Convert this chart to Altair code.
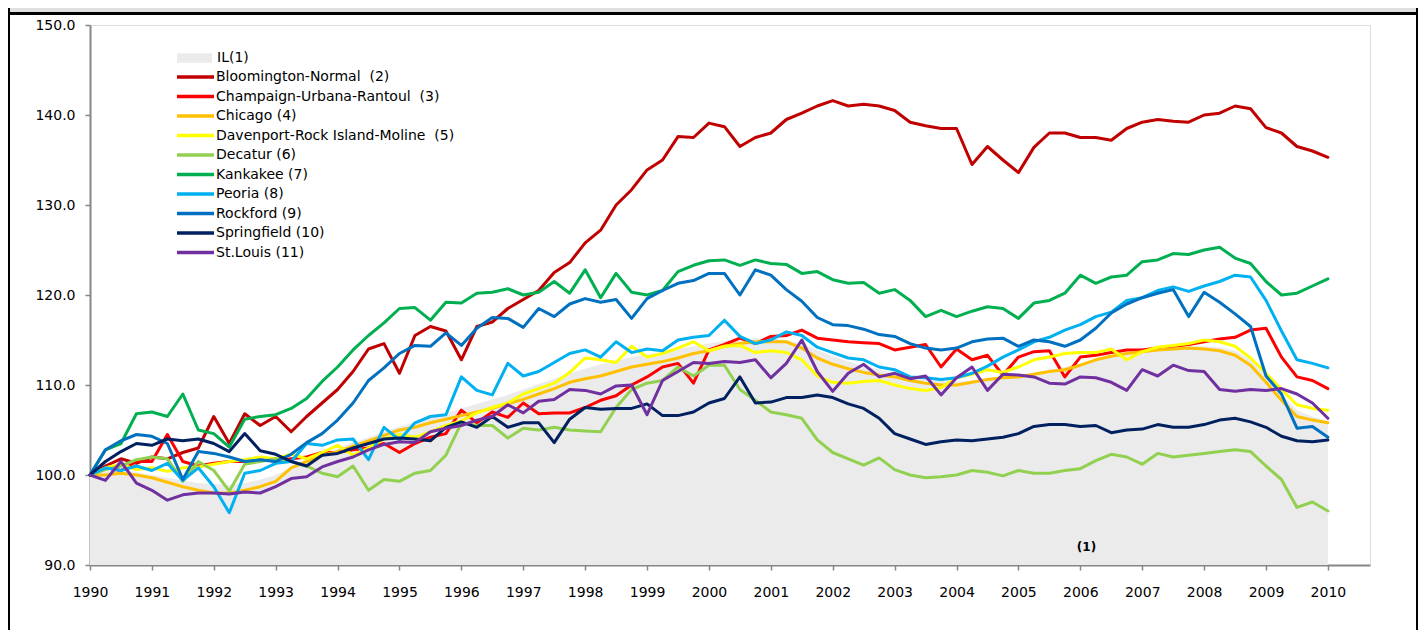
import altair as alt
import pandas as pd

# quarterly grid 1990.00 ... 2010.00
years = [1990 + q / 4 for q in range(81)]

il = [100.0, 100.4, 100.6, 100.3,
      100.0, 99.7, 99.4, 99.1,
      99.0, 98.9, 99.1, 99.5,
      100.0, 100.8, 101.6, 102.4,
      103.0, 103.6, 104.2, 104.8,
      105.4, 105.9, 106.4, 106.9,
      107.4, 107.9, 108.4, 108.9,
      109.5, 110.1, 110.7, 111.3,
      111.8, 112.3, 112.7, 113.1,
      113.4, 113.7, 114.0, 114.3,
      114.6, 114.9, 115.1, 115.2,
      115.2, 115.0, 114.6, 113.9,
      113.2, 112.6, 112.1, 111.7,
      111.3, 111.0, 110.7, 110.5,
      110.4, 110.5, 110.7, 110.9,
      111.1, 111.4, 111.7, 112.0,
      112.4, 112.8, 113.2, 113.5,
      113.8, 114.0, 114.2, 114.3,
      114.3, 114.2, 113.8, 112.8,
      111.0, 109.0, 107.2, 106.5,
      106.0]

bloomington = [100.0, 101.0, 101.8, 101.3,
               102.0, 101.8, 102.5, 103.0,
               106.5, 103.5, 106.8, 105.5,
               106.5, 104.8, 106.5, 108.0,
               109.5, 111.5, 114.0, 114.6,
               111.3, 115.5, 116.5, 116.0,
               112.8, 116.5, 117.0, 118.5,
               119.5, 120.5, 122.5, 123.6,
               125.8, 127.2, 130.0, 131.7,
               133.9, 135.0, 137.6, 137.5,
               139.1, 138.7, 136.5, 137.5,
               138.0, 139.5, 140.2, 141.0,
               141.6, 141.0, 141.2, 141.0,
               140.5, 139.2, 138.8, 138.5,
               138.5, 134.5, 136.5, 135.0,
               133.6, 136.4, 138.0, 138.0,
               137.5, 137.5, 137.2, 138.5,
               139.2, 139.5, 139.3, 139.2,
               140.0, 140.2, 141.0, 140.7,
               138.6, 138.0, 136.5, 136.0,
               135.3]

champaign = [100.0, 100.8, 100.5, 101.5,
             101.5, 104.5, 101.5, 101.0,
             101.3, 101.5, 101.5, 101.8,
             101.5, 101.8, 102.0, 102.5,
             102.5, 102.8, 103.0, 103.5,
             102.5, 103.5, 104.2, 104.6,
             107.2, 105.8, 107.0, 106.4,
             108.0, 106.8, 106.9, 106.9,
             107.5, 108.3, 108.8, 110.0,
             110.9, 112.0, 112.4, 110.2,
             113.9, 114.5, 115.2, 114.6,
             115.4, 115.5, 116.1, 115.2,
             115.0, 114.8, 114.7, 114.6,
             113.9, 114.2, 114.5, 112.0,
             114.0, 112.8, 113.3, 111.1,
             113.1, 113.7, 113.8, 110.9,
             113.1, 113.3, 113.6, 113.9,
             113.9, 114.1, 114.3, 114.5,
             114.8, 115.1, 115.3, 116.1,
             116.3, 113.1, 110.9, 110.5,
             109.6]

chicago = [100.0, 100.0, 100.2, 100.0,
           99.7, 99.2, 98.7, 98.3,
           98.0, 98.0, 98.3, 98.7,
           99.3, 100.8, 101.5, 102.2,
           102.6, 103.2, 103.8, 104.4,
           105.0, 105.3, 105.8, 106.2,
           106.6, 107.0, 107.4, 107.9,
           108.4, 109.0, 109.6, 110.3,
           110.7, 111.0, 111.5, 112.0,
           112.3, 112.6, 113.0, 113.5,
           113.8, 114.3, 114.6, 114.8,
           114.8, 114.8, 114.1, 113.0,
           112.3, 111.8, 111.4, 111.1,
           110.9, 110.5, 110.2, 110.0,
           110.0, 110.3, 110.6, 110.8,
           110.9, 111.2, 111.5, 111.7,
           112.2, 112.8, 113.2, 113.5,
           113.7, 113.9, 114.0, 114.1,
           114.0, 113.8, 113.3, 112.2,
           110.3, 108.3, 106.5, 106.1,
           105.8]

davenport = [100.0, 100.8, 101.2, 100.6,
             100.8, 100.4, 100.8, 100.9,
             101.2, 101.5, 101.7, 102.0,
             101.8, 102.3, 101.8, 102.5,
             103.3, 102.2, 103.0, 104.0,
             104.5, 104.2, 104.8, 105.5,
             106.0, 106.9, 107.5, 108.0,
             109.0, 109.6, 110.2, 111.4,
             113.0, 112.8, 112.5, 114.3,
             113.1, 113.5, 114.1, 114.8,
             113.8, 114.3, 114.4, 113.6,
             113.8, 113.6, 112.8, 111.0,
             110.3, 110.2, 110.4, 110.5,
             110.0, 109.6, 109.4, 109.7,
             110.8, 111.2, 111.7, 111.4,
             112.0, 112.8, 113.1, 113.5,
             113.6, 113.6, 114.0, 112.8,
             113.7, 114.2, 114.4, 114.6,
             115.0, 114.8, 114.3, 113.0,
             111.3, 109.5, 107.8, 107.4,
             107.2]

decatur = [100.0, 100.6, 101.0, 101.7,
           102.0, 101.8, 99.3, 101.5,
           100.5, 98.2, 101.2, 101.5,
           101.8, 101.5, 101.0, 100.2,
           99.8, 101.0, 98.3, 99.5,
           99.3, 100.2, 100.5, 102.2,
           105.8, 105.5, 105.5, 104.1,
           105.2, 105.0, 105.3, 105.0,
           104.9, 104.8, 107.5, 109.5,
           110.2, 110.5, 112.0, 111.0,
           112.2, 112.2, 109.5, 108.3,
           107.0, 106.7, 106.3, 103.9,
           102.5, 101.8, 101.1, 101.9,
           100.6, 100.0, 99.7, 99.8,
           100.0, 100.5, 100.3, 99.9,
           100.5, 100.2, 100.2, 100.5,
           100.7, 101.6, 102.3, 102.0,
           101.2, 102.4, 102.0, 102.2,
           102.4, 102.6, 102.8, 102.6,
           101.0, 99.5, 96.4, 97.0,
           96.0]

kankakee = [100.0, 102.8, 103.5, 106.8,
            107.0, 106.5, 109.0, 105.0,
            104.6, 103.1, 106.2, 106.5,
            106.7, 107.4, 108.5, 110.4,
            112.0, 113.9, 115.5, 116.9,
            118.5, 118.6, 117.2, 119.2,
            119.1, 120.2, 120.3, 120.7,
            120.0, 120.3, 121.5, 120.2,
            122.8, 119.7, 122.4, 120.3,
            120.0, 120.5, 122.6, 123.3,
            123.8, 123.9, 123.3, 123.9,
            123.5, 123.4, 122.4, 122.6,
            121.7, 121.3, 121.4, 120.2,
            120.6, 119.4, 117.6, 118.3,
            117.6, 118.2, 118.7, 118.5,
            117.4, 119.1, 119.4, 120.2,
            122.2, 121.3, 122.0, 122.2,
            123.7, 123.9, 124.6, 124.5,
            125.0, 125.3, 124.1, 123.5,
            121.5, 120.0, 120.2, 121.0,
            121.8]

peoria = [100.0, 100.8, 100.5, 101.0,
          100.5, 101.3, 99.4, 100.8,
          98.7, 95.8, 100.2, 100.5,
          101.3, 101.5, 103.5, 103.3,
          103.9, 104.0, 101.7, 105.3,
          103.9, 105.8, 106.5, 106.7,
          110.9, 109.4, 108.9, 112.4,
          111.0, 111.5, 112.5, 113.5,
          113.9, 113.1, 114.8, 113.6,
          114.0, 113.8, 115.0, 115.3,
          115.5, 117.2, 115.4, 114.6,
          115.0, 115.9, 115.5, 114.2,
          113.6, 113.0, 112.8, 112.0,
          111.7, 110.9, 110.8, 110.6,
          110.8, 111.3, 112.1, 113.1,
          113.9, 114.8, 115.3, 116.1,
          116.7, 117.6, 118.1, 119.4,
          119.7, 120.5, 120.9, 120.4,
          121.0, 121.5, 122.2, 122.0,
          119.4, 116.0, 112.8, 112.4,
          111.9]

rockford = [100.0, 102.8, 103.8, 104.5,
            104.3, 103.5, 99.5, 102.6,
            102.4, 102.0, 101.5, 101.7,
            101.5, 102.3, 103.6, 104.6,
            106.1, 108.0, 110.5, 111.9,
            113.5, 114.4, 114.3, 115.8,
            114.4, 116.3, 117.5, 117.4,
            116.4, 118.5, 117.6, 119.0,
            119.6, 119.2, 119.5, 117.4,
            119.6, 120.5, 121.3, 121.6,
            122.4, 122.4, 120.0, 122.8,
            122.2, 120.6, 119.3, 117.5,
            116.7, 116.6, 116.2, 115.6,
            115.4, 114.6, 114.1, 113.9,
            114.1, 114.8, 115.1, 115.2,
            114.3, 115.0, 114.8, 114.3,
            115.0, 116.3, 118.0, 119.0,
            119.7, 120.2, 120.6, 117.6,
            120.3, 119.2, 117.9, 116.5,
            111.0, 109.0, 105.2, 105.4,
            104.2]

springfield = [100.0, 101.5, 102.6, 103.5,
               103.3, 104.0, 103.8, 104.0,
               103.5, 102.6, 104.6, 102.7,
               102.3, 101.5, 101.0, 102.2,
               102.4, 103.0, 103.5, 104.0,
               104.1, 104.0, 103.8, 105.3,
               105.9, 105.3, 106.5, 105.3,
               105.8, 105.8, 103.6, 106.2,
               107.5, 107.3, 107.4, 107.4,
               107.9, 106.6, 106.6, 107.0,
               108.0, 108.5, 110.9, 108.0,
               108.1, 108.6, 108.6, 108.9,
               108.6, 107.9, 107.4, 106.3,
               104.6, 104.0, 103.4, 103.7,
               103.9, 103.8, 104.0, 104.2,
               104.6, 105.4, 105.6, 105.6,
               105.4, 105.5, 104.7, 105.0,
               105.1, 105.6, 105.3, 105.3,
               105.6, 106.1, 106.3, 105.9,
               105.3, 104.3, 103.8, 103.7,
               103.9]

stlouis = [100.0, 99.4, 101.5, 99.1,
           98.3, 97.2, 97.8, 98.0,
           98.0, 97.9, 98.1, 98.0,
           98.7, 99.6, 99.8, 100.9,
           101.5, 102.0, 102.8, 103.4,
           103.7, 103.6, 104.8, 105.2,
           105.5, 106.1, 106.5, 107.8,
           106.9, 108.2, 108.4, 109.5,
           109.4, 109.0, 109.9, 110.0,
           106.7, 110.5, 111.5, 112.5,
           112.4, 112.6, 112.5, 112.8,
           110.8, 112.4, 115.0, 111.5,
           109.3, 111.3, 112.3, 110.9,
           111.3, 110.7, 111.0, 108.9,
           110.8, 112.0, 109.4, 111.2,
           111.1, 110.9, 110.2, 110.1,
           110.9, 110.8, 110.3, 109.4,
           111.7, 111.0, 112.2, 111.6,
           111.5, 109.5, 109.3, 109.5,
           109.4, 109.6, 109.0, 108.0,
           106.3]

series_names = ["Bloomington-Normal\u00a0 (2)", "Champaign-Urbana-Rantoul\u00a0 (3)",
                "Chicago (4)", "Davenport-Rock Island-Moline\u00a0 (5)", "Decatur (6)",
                "Kankakee (7)", "Peoria (8)", "Rockford (9)", "Springfield (10)",
                "St.Louis (11)"]
series_colors = ["#c00000", "#ff0000", "#ffc000", "#ffff00", "#92d050",
                 "#00b050", "#00b0f0", "#0070c0", "#002060", "#7030a0"]
series_values = [bloomington, champaign, chicago, davenport, decatur,
                 kankakee, peoria, rockford, springfield, stlouis]

year_ticks = list(range(1990, 2011))
value_ticks = [90, 100, 110, 120, 130, 140, 150]

rows = []
for idx, (name, vals) in enumerate(zip(series_names, series_values)):
    for yr, v in zip(years, vals):
        rows.append({"year": yr, "value": v, "series": name, "k": idx})
lines_df = pd.DataFrame(rows)
il_df = pd.DataFrame({"year": years, "value": il, "region": "IL(1)"})
note_df = pd.DataFrame({"year": [2006.1], "value": [92.0], "label": ["(1)"]})

FONT = "DejaVu Sans"
x_scale = alt.Scale(domain=[1990, 2010.68], nice=False, zero=False)
y_scale = alt.Scale(domain=[90, 150], nice=False, zero=False)

x_axis = alt.Axis(values=year_ticks, format="d", title=None, grid=False,
                  domainColor="#868686", domainWidth=2, tickColor="#868686",
                  tickWidth=1.5, tickSize=5, labelPadding=15, labelFont=FONT,
                  labelFontSize=14, labelColor="#000000", labelFlush=False)
y_axis = alt.Axis(values=value_ticks, format=".1f", title=None, grid=False,
                  domainColor="#868686", domainWidth=2, tickColor="#868686",
                  tickWidth=1.5, tickSize=5, labelPadding=10, labelFont=FONT,
                  labelFontSize=14, labelColor="#000000")

area = alt.Chart(il_df).mark_area(opacity=1).encode(
    x=alt.X("year:Q", scale=x_scale, axis=x_axis),
    y=alt.Y("value:Q", scale=y_scale, axis=y_axis),
    y2=alt.datum(90),
    fill=alt.Fill("region:N", scale=alt.Scale(domain=["IL(1)"], range=["#ebebeb"]),
                  legend=alt.Legend(title=None, orient="none", legendX=87, legendY=26,
                                    symbolType="M-1,-0.27H1V0.27H-1Z", symbolSize=1225,
                                    symbolStrokeWidth=0, symbolOpacity=1,
                                    labelFont=FONT, labelFontSize=14, labelColor="#000000",
                                    labelOffset=5, clipHeight=14, padding=0, symbolOffset=0)),
)

lines = alt.Chart(lines_df).mark_line(strokeWidth=3, strokeJoin="round", strokeCap="round").encode(
    x=alt.X("year:Q", scale=x_scale),
    y=alt.Y("value:Q", scale=y_scale),
    color=alt.Color("series:N", sort=series_names,
                    scale=alt.Scale(domain=series_names, range=series_colors),
                    legend=alt.Legend(title=None, orient="none", legendX=85, legendY=45,
                                      symbolType="stroke", symbolSize=1369,
                                      symbolStrokeWidth=3.5, labelFont=FONT,
                                      labelFontSize=14, labelColor="#000000",
                                      labelOffset=0, clipHeight=14, rowPadding=5.5,
                                      padding=0, symbolOffset=0, labelLimit=600)),
)

note = alt.Chart(note_df).mark_text(font=FONT, fontSize=12, fontWeight="bold",
                                    color="#000000").encode(
    x=alt.X("year:Q", scale=x_scale),
    y=alt.Y("value:Q", scale=y_scale),
    text="label:N",
)

frame_src = pd.DataFrame({"k": [0]})
topbar = alt.Chart(frame_src).mark_rect(color="#e0e0e0").encode(
    x=alt.value(-82), x2=alt.value(1328), y=alt.value(-17), y2=alt.value(-12))
topline = alt.Chart(frame_src).mark_rule(color="#000000", strokeWidth=3).encode(
    x=alt.value(-82), x2=alt.value(1328), y=alt.value(-11.5))
leftline = alt.Chart(frame_src).mark_rule(color="#000000", strokeWidth=2).encode(
    x=alt.value(-81), y=alt.value(-17), y2=alt.value(605))
rightline = alt.Chart(frame_src).mark_rule(color="#000000", strokeWidth=2).encode(
    x=alt.value(1327), y=alt.value(-17), y2=alt.value(605))

chart = alt.layer(topbar, topline, leftline, rightline, area, lines, note).properties(
    width=1280, height=540,
    autosize=alt.AutoSizeParams(type="none"),
    padding={"left": 82, "top": 17, "right": 48, "bottom": 65},
).configure_view(stroke=None).configure(background="#ffffff")

chart.save("out.html", embed_options={"renderer": "svg", "actions": False})
